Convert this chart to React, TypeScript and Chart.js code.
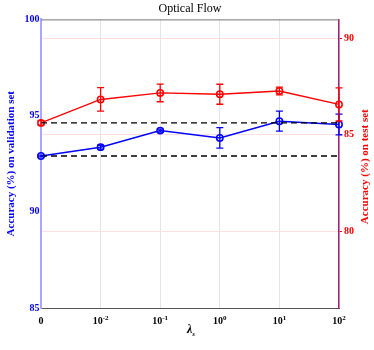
import React, { useEffect, useRef } from 'react';
import { Chart, registerables } from 'chart.js';
Chart.register(...registerables);

const lambdaLabels = ['0', '10^-2', '10^-1', '10^0', '10^1', '10^2'];
const lambdaBase = ['0', '10', '10', '10', '10', '10'];
const lambdaExp = ['', '-2', '-1', '0', '1', '2'];
const validationAcc = [92.9, 93.36, 94.22, 93.84, 94.71, 94.54];
const validationErr = [0.05, 0.1, 0.08, 0.53, 0.52, 0.54];
const testAcc = [85.62, 86.84, 87.18, 87.11, 87.28, 86.58];
const testErr = [0.12, 0.61, 0.46, 0.52, 0.2, 0.86];
const refValidation = 92.9; // dashed baseline, left axis
const refTest = 85.62; // dashed baseline, right axis
const leftRange = [85, 100];
const rightRange = [76, 91];
const rightTicks = [80, 85, 90];

const SERIF = '"Liberation Serif", "Times New Roman", serif';

const errorBarPlugin = {
  id: 'errorBars',
  afterDatasetsDraw(chart: any) {
    const ctx = chart.ctx;
    chart.data.datasets.forEach((ds: any, di: number) => {
      const errs = ds.errors;
      if (!errs) return;
      const meta = chart.getDatasetMeta(di);
      const ys = chart.scales[ds.yAxisID];
      ctx.save();
      ctx.strokeStyle = ds.borderColor;
      ctx.lineWidth = 1.3;
      meta.data.forEach((pt: any, i: number) => {
        const v = ds.data[i];
        const e = errs[i];
        const x = pt.x;
        const yT = ys.getPixelForValue(v + e);
        const yB = ys.getPixelForValue(v - e);
        ctx.beginPath();
        ctx.moveTo(x, yT);
        ctx.lineTo(x, yB);
        ctx.moveTo(x - 3.5, yT);
        ctx.lineTo(x + 3.5, yT);
        ctx.moveTo(x - 3.5, yB);
        ctx.lineTo(x + 3.5, yB);
        ctx.stroke();
      });
      ctx.restore();
    });
  },
};

const framePlugin = {
  id: 'frame',
  afterDraw(chart: any) {
    const { ctx, chartArea } = chart;
    const xs = chart.scales.x;
    ctx.save();
    ctx.strokeStyle = '#777';
    ctx.lineWidth = 1;
    ctx.beginPath();
    ctx.moveTo(chartArea.left, chartArea.top + 0.5);
    ctx.lineTo(chartArea.right, chartArea.top + 0.5);
    ctx.stroke();

    // x tick labels with superscript exponents
    ctx.fillStyle = '#000';
    ctx.textBaseline = 'alphabetic';
    ctx.textAlign = 'left';
    lambdaBase.forEach((b, i) => {
      const x = xs.getPixelForValue(i);
      ctx.font = `bold 10px ${SERIF}`;
      const wb = ctx.measureText(b).width;
      const e = lambdaExp[i];
      ctx.font = `bold 7px ${SERIF}`;
      const we = e ? ctx.measureText(e).width : 0;
      const start = x - (wb + we) / 2;
      ctx.font = `bold 10px ${SERIF}`;
      ctx.fillText(b, start, chartArea.bottom + 16);
      if (e) {
        ctx.font = `bold 7px ${SERIF}`;
        ctx.fillText(e, start + wb, chartArea.bottom + 12);
      }
    });

    // x axis title: lambda_s
    const cx = (chartArea.left + chartArea.right) / 2;
    ctx.font = `italic bold 12px ${SERIF}`;
    const wl = ctx.measureText('λ').width;
    ctx.font = `italic bold 7px ${SERIF}`;
    const ws = ctx.measureText('s').width;
    const sx = cx - (wl + ws) / 2 + 1;
    ctx.font = `italic bold 12px ${SERIF}`;
    ctx.fillText('λ', sx, chartArea.bottom + 25);
    ctx.font = `italic bold 7px ${SERIF}`;
    ctx.fillText('s', sx + wl, chartArea.bottom + 28);

    // right axis title (reads bottom-to-top)
    ctx.translate(365, (chartArea.top + chartArea.bottom) / 2 + 3);
    ctx.rotate(-Math.PI / 2);
    ctx.fillStyle = '#ff0000';
    ctx.font = `bold 11px ${SERIF}`;
    ctx.textAlign = 'center';
    ctx.textBaseline = 'middle';
    ctx.fillText('Accuracy (%) on test set', 0, 0);
    ctx.restore();
  },
};

export default function App() {
  const ref = useRef<HTMLCanvasElement>(null);
  useEffect(() => {
    if (!ref.current) return;
    const chart = new Chart(ref.current, {
      type: 'line',
      data: {
        labels: lambdaLabels,
        datasets: [
          {
            label: 'ref-val',
            data: lambdaLabels.map(() => refValidation),
            yAxisID: 'y',
            borderColor: '#000',
            borderWidth: 1.3,
            borderDash: [6, 4],
            pointRadius: 0,
            fill: false,
          },
          {
            label: 'ref-test',
            data: lambdaLabels.map(() => refTest),
            yAxisID: 'y1',
            borderColor: '#000',
            borderWidth: 1.3,
            borderDash: [6, 4],
            pointRadius: 0,
            fill: false,
          },
          {
            label: 'validation',
            data: validationAcc,
            errors: validationErr,
            yAxisID: 'y',
            borderColor: '#0000ff',
            borderWidth: 1.5,
            pointRadius: 3.2,
            pointBorderWidth: 1.5,
            pointBackgroundColor: 'rgba(255,255,255,0)',
            pointBorderColor: '#0000ff',
            fill: false,
          } as any,
          {
            label: 'test',
            data: testAcc,
            errors: testErr,
            yAxisID: 'y1',
            borderColor: '#ff0000',
            borderWidth: 1.4,
            pointRadius: 3.2,
            pointBorderWidth: 1.5,
            pointBackgroundColor: 'rgba(255,255,255,0)',
            pointBorderColor: '#ff0000',
            fill: false,
          } as any,
        ],
      },
      options: {
        responsive: false,
        animation: false,
        layout: { padding: 0 },
        plugins: {
          legend: { display: false },
          tooltip: { enabled: false },
          title: {
            display: true,
            text: 'Optical Flow',
            fullSize: false,
            color: '#000',
            font: { family: SERIF, size: 12, weight: 'normal' },
            padding: { top: 2, bottom: 3 },
          },
        },
        scales: {
          x: {
            type: 'category',
            offset: false,
            grid: { display: true, color: '#e4e4e4', drawTicks: false },
            border: { display: true, color: '#555', width: 1 },
            ticks: { display: false },
            title: { display: false },
            afterFit(scale: any) {
              scale.height = 42;
            },
          },
          y: {
            type: 'linear',
            position: 'left',
            min: leftRange[0],
            max: leftRange[1],
            ticks: {
              stepSize: 5,
              color: '#0000ff',
              font: { family: SERIF, size: 10, weight: 'bold' },
              padding: 1.5,
            },
            grid: { display: false, drawTicks: false, tickLength: 0 },
            border: { display: true, color: '#a8a8ff', width: 2 },
            title: {
              display: true,
              text: 'Accuracy (%) on validation set',
              color: '#0000ff',
              font: { family: SERIF, size: 11, weight: 'bold' },
              padding: { top: 5, bottom: 0 },
            },
            afterFit(scale: any) {
              scale.width = 41;
            },
          },
          y1: {
            type: 'linear',
            position: 'right',
            min: rightRange[0],
            max: rightRange[1],
            ticks: {
              color: '#ff0000',
              font: { family: SERIF, size: 10, weight: 'bold' },
              padding: 2,
            },
            afterBuildTicks(scale: any) {
              scale.ticks = rightTicks.map((v) => ({ value: v }));
            },
            grid: {
              display: true,
              color: '#ffe0e0',
              drawOnChartArea: true,
              drawTicks: true,
              tickLength: 3,
              tickColor: '#ff0000',
            },
            border: { display: true, color: '#a0207a', width: 1.5 },
            title: { display: false },
            afterFit(scale: any) {
              scale.width = 35;
            },
          },
        },
      },
      plugins: [errorBarPlugin, framePlugin],
    } as any);
    return () => chart.destroy();
  }, []);
  return (
    <div style={{ position: 'absolute', left: 0, top: 0, width: 374, height: 350, background: '#fff' }}>
      <canvas ref={ref} width={374} height={350} style={{ display: 'block' }} />
    </div>
  );
}
